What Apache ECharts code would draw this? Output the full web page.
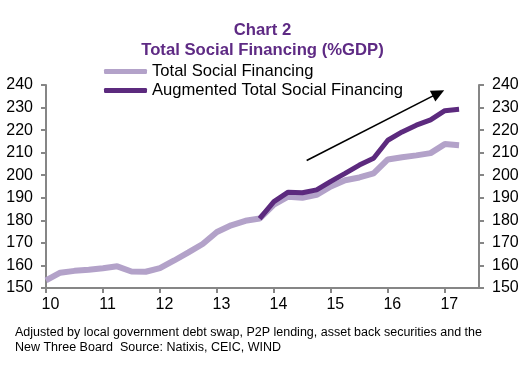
<!DOCTYPE html>
<html>
<head>
<meta charset="utf-8">
<script src="https://cdn.jsdelivr.net/npm/echarts@6/dist/echarts.min.js"></script>
<style>html,body{margin:0;padding:0;background:#fff}#c{width:525px;height:375px}</style>
</head>
<body>
<div id="c"></div>
<script>
// Quarterly observations, 2010Q1 .. 2017Q2
var quarters = ['10Q1','10Q2','10Q3','10Q4','11Q1','11Q2','11Q3','11Q4','12Q1','12Q2','12Q3','12Q4',
  '13Q1','13Q2','13Q3','13Q4','14Q1','14Q2','14Q3','14Q4','15Q1','15Q2','15Q3','15Q4',
  '16Q1','16Q2','16Q3','16Q4','17Q1','17Q2'];
var tsf = [153.4,156.8,157.6,158.1,158.8,159.6,157.3,157.2,158.8,162.2,165.8,169.5,
  174.8,177.8,179.8,180.8,187.0,190.5,190.0,191.3,195.0,197.8,199.0,200.8,
  207.0,208.0,208.8,209.8,213.8,213.3];
var augmented = [null,null,null,null,null,null,null,null,null,null,null,null,
  null,null,null,180.8,188.3,192.5,192.2,193.5,197.3,200.8,204.5,207.5,
  215.5,219.2,222.2,224.5,228.6,229.2];
var yearLabels = ['10','11','12','13','14','15','16','17'];
var yearTickIdx = [0,4,8,12,16,20,24,28];
var arrowFrom = [18.3, 206.5];
var arrowTo = [27.55, 236.4];

var AX = '#868686';
function pairs(arr){ return arr.map(function(v,i){ return [i, v]; }); }

var chart = echarts.init(document.getElementById('c'), null, {renderer:'canvas'});
chart.setOption({
  animation: false,
  backgroundColor: '#fff',
  textStyle: {fontFamily: 'Liberation Sans, Arial, sans-serif'},
  title: {
    text: 'Chart 2\nTotal Social Financing (%GDP)',
    left: 'center', top: 20, padding: 0,
    textStyle: {color: '#5E2A84', fontSize: 16.7, fontWeight: 'bold', lineHeight: 20,
      fontFamily: 'Liberation Sans, Arial, sans-serif'}
  },
  legend: {
    orient: 'vertical', left: 104, top: 63, padding: 0, itemWidth: 43, itemHeight: 5, itemGap: 2,
    icon: 'roundRect',
    textStyle: {color: '#000', fontSize: 16.6, lineHeight: 16, fontFamily: 'Liberation Sans, Arial, sans-serif'},
    data: ['Total Social Financing', 'Augmented Total Social Financing']
  },
  grid: {left: 46, right: 46, top: 85, bottom: 87, containLabel: false, outerBoundsMode: 'none'},
  xAxis: {
    type: 'value', min: 0, max: 30.4,
    axisLine: {show: true, lineStyle: {color: AX, width: 2}},
    axisTick: {show: true, customValues: yearTickIdx, length: 5, lineStyle: {color: AX, width: 2}},
    axisLabel: {customValues: yearTickIdx, color: '#000', fontSize: 16, margin: 9,
      padding: [0,0,0,9],
      formatter: function(v){ var k = yearTickIdx.indexOf(Math.round(v)); return k >= 0 ? yearLabels[k] : ''; }},
    splitLine: {show: false}
  },
  yAxis: [
    {type: 'value', min: 150, max: 240, interval: 10, position: 'left',
     axisLine: {show: true, lineStyle: {color: AX, width: 2}},
     axisTick: {show: true, length: 5, lineStyle: {color: AX, width: 2}},
     axisLabel: {color: '#000', fontSize: 16, margin: 13},
     splitLine: {show: false}},
    {type: 'value', min: 150, max: 240, interval: 10, position: 'right',
     axisLine: {show: true, lineStyle: {color: AX, width: 2}},
     axisTick: {show: true, length: 5, lineStyle: {color: AX, width: 2}},
     axisLabel: {color: '#000', fontSize: 16, margin: 13},
     splitLine: {show: false}}
  ],
  series: [
    {name: 'Total Social Financing', type: 'line', data: pairs(tsf), showSymbol: false,
     itemStyle: {color: '#B3A2C9'}, lineStyle: {color: '#B3A2C9', width: 6}},
    {name: 'Augmented Total Social Financing', type: 'line', data: pairs(augmented), showSymbol: false,
     itemStyle: {color: '#5C2A7E'}, lineStyle: {color: '#5C2A7E', width: 5},
     markLine: {silent: true, symbol: ['none','triangle'], symbolSize: [12, 13],
       label: {show: false}, lineStyle: {color: '#000', width: 1.6, type: 'solid'},
       emphasis: {disabled: true},
       data: [[{coord: arrowFrom}, {coord: arrowTo}]]}}
  ],
  graphic: [
    {type: 'text', left: 15, top: 325, style: {
      text: 'Adjusted by local government debt swap, P2P lending, asset back securities and the\nNew Three Board  Source: Natixis, CEIC, WIND',
      fill: '#000', font: '12.5px "Liberation Sans", Arial, sans-serif', lineHeight: 15}}
  ]
});
</script>
</body>
</html>
